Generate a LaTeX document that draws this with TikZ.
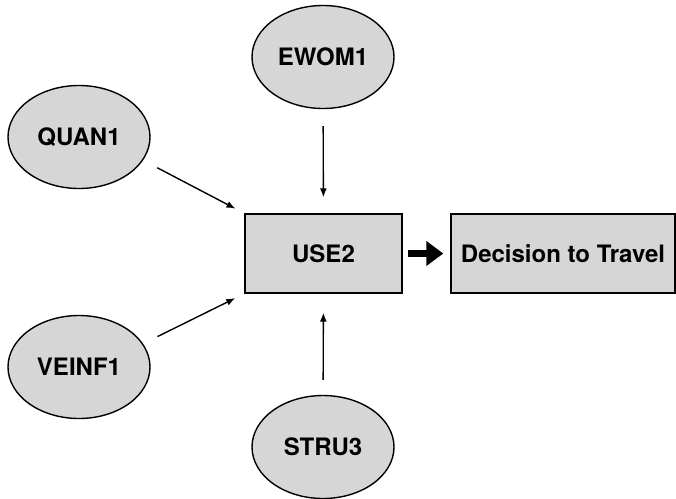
\documentclass[tikz,border=0pt]{standalone}
\usepackage{fontspec}
\setmainfont{TeX Gyre Heros}
\usetikzlibrary{arrows, arrows.meta, shapes.geometric}
\definecolor{boxgray}{HTML}{D6D6D6}

\tikzset{
  factor/.style={draw, ellipse, fill=boxgray, line width=1.4pt, inner sep=0pt,
    minimum width=142pt, minimum height=103pt, font=\fontsize{24}{28}\selectfont\bfseries},
  construct/.style={draw, rectangle, fill=boxgray, line width=1.4pt, inner sep=0pt,
    minimum height=79pt, font=\fontsize{24}{28}\selectfont\bfseries},
  link/.style={-{Latex[length=9pt, width=7pt]}, line width=1.4pt}
}

\begin{document}
\begin{tikzpicture}[x=1pt, y=-1pt, color=black]
\useasboundingbox (0,0) rectangle (676,498);

\node[factor] (quan) at (79,137) {QUAN1};
\node[factor] (ewom) at (323,57) {EWOM1};
\node[factor] (veinf) at (79,367) {VEINF1};
\node[factor] (stru) at (323,447) {STRU3};
\node[construct, minimum width=157pt] (use) at (323.5,253.5) {USE2};
\node[construct, minimum width=224pt] (dec) at (563,253.5) {Decision to Travel};

% arrows into USE2
\draw[link, shorten <=16pt, shorten >=10pt] (quan.-20) -- (use.north west);
\draw[link, shorten <=16pt, shorten >=10pt] (veinf.20) -- (use.south west);
\draw[link, shorten <=17pt, shorten >=16pt] (ewom) -- (use);
\draw[link, shorten <=15pt, shorten >=19pt] (stru) -- (use);

% outcome
\draw[-{Triangle[length=17pt, width=24pt]}, line width=7pt, shorten <=5pt, shorten >=7pt] (use) -- (dec);

\end{tikzpicture}
\end{document}
